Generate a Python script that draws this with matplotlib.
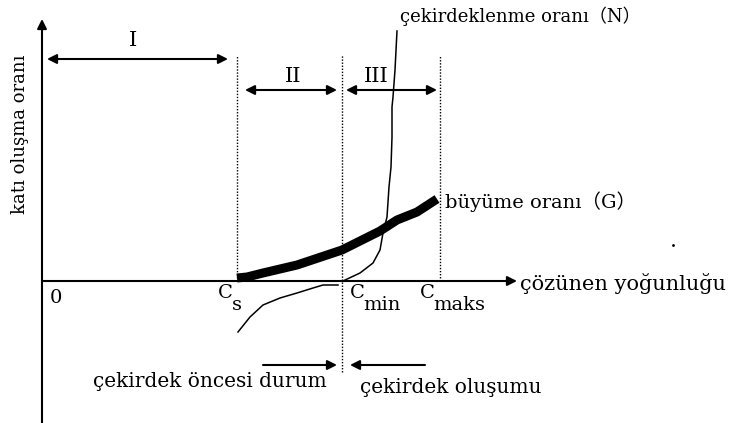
import matplotlib
matplotlib.use("Agg")
import matplotlib.pyplot as plt

plt.rcParams['font.family'] = ['DejaVu Serif', 'Noto Sans CJK JP']

# concentration marks on the horizontal axis
C_s, C_min, C_maks = 1.95, 3.0, 3.98

# growth rate G (thick curve)
g_x = [1.95, 2.05, 2.21, 2.55, 3.0, 3.38, 3.55, 3.75, 3.95]
g_y = [0.03, 0.04, 0.08, 0.16, 0.31, 0.50, 0.61, 0.69, 0.82]

# nucleation rate N
n_x = [3.01, 3.18, 3.31, 3.38, 3.41, 3.45, 3.47, 3.49, 3.50, 3.50, 3.51, 3.53, 3.55]
n_y = [0.0, 0.08, 0.18, 0.31, 0.48, 0.64, 0.94, 1.14, 1.44, 1.74, 1.84, 2.11, 2.50]

# pre-nucleation branch below the axis
p_x = [1.96, 2.08, 2.21, 2.38, 2.55, 2.71, 2.81, 2.96]
p_y = [-0.51, -0.36, -0.24, -0.17, -0.12, -0.07, -0.04, -0.04]

fig = plt.figure(figsize=(7.37, 4.23), dpi=100)
ax = fig.add_axes([0, 0, 1, 1])
ax.set_xlim(-0.42, 6.95)
ax.set_ylim(-1.42, 2.81)
ax.axis('off')

arrow = dict(arrowstyle='-|>', color='black', lw=1.5, mutation_scale=14,
             shrinkA=0, shrinkB=0)
both = dict(arrow, arrowstyle='<|-|>')

# axes with arrow heads
ax.annotate('', xy=(0, 2.62), xytext=(0, -1.42), arrowprops=arrow)
ax.annotate('', xy=(4.75, 0), xytext=(0, 0), arrowprops=arrow)

# dotted guide lines
for c in (C_s, C_maks):
    ax.plot([c, c], [0, 2.26], color='black', ls=(0, (1, 1.2)), lw=1)
ax.plot([C_min, C_min], [-0.91, 2.26], color='black', ls=(0, (1, 1.2)), lw=1)

# curves
ax.plot(n_x, n_y, color='black', lw=1.1)
ax.plot(p_x, p_y, color='black', lw=1.1)
ax.plot(g_x, g_y, color='black', lw=6.5, solid_capstyle='butt')

# region arrows
ax.annotate('', xy=(0.05, 2.22), xytext=(1.86, 2.22), arrowprops=both)
ax.annotate('', xy=(2.03, 1.91), xytext=(2.95, 1.91), arrowprops=both)
ax.annotate('', xy=(3.04, 1.91), xytext=(3.95, 1.91), arrowprops=both)
ax.text(0.91, 2.41, 'I', ha='center', va='center', fontsize=15)
ax.text(2.51, 2.05, 'II', ha='center', va='center', fontsize=15)
ax.text(3.34, 2.05, 'III', ha='center', va='center', fontsize=15)

# bottom arrows
ax.annotate('', xy=(2.95, -0.84), xytext=(2.21, -0.84), arrowprops=arrow)
ax.annotate('', xy=(3.08, -0.84), xytext=(3.83, -0.84), arrowprops=arrow)
ax.text(0.51, -1.0, 'çekirdek öncesi durum', va='center', fontsize=14.5)
ax.text(3.18, -1.06, 'çekirdek oluşumu', va='center', fontsize=14.5)

# curve and axis labels
ax.text(3.58, 2.65, 'çekirdeklenme oranı（N）', va='center', fontsize=13)
ax.text(4.03, 0.79, 'büyüme oranı（G）', va='center', fontsize=14)
ax.text(4.78, -0.02, 'çözünen yoğunluğu', va='center', fontsize=15)
ax.text(-0.22, 1.47, 'katı oluşma oranı', rotation=90, ha='center', va='center', fontsize=13)

# labels under the concentration axis
ax.text(0.08, -0.17, '0', va='center', fontsize=14)
for x0, sub in ((1.76, 's'), (3.08, 'min'), (3.78, 'maks')):
    ax.text(x0, -0.12, 'C', va='center', fontsize=14)
    ax.text(x0 + 0.135, -0.24, sub, va='center', fontsize=14)

ax.plot([6.31], [0.36], 'k.', ms=2)

fig.savefig('out.png', dpi=100)
